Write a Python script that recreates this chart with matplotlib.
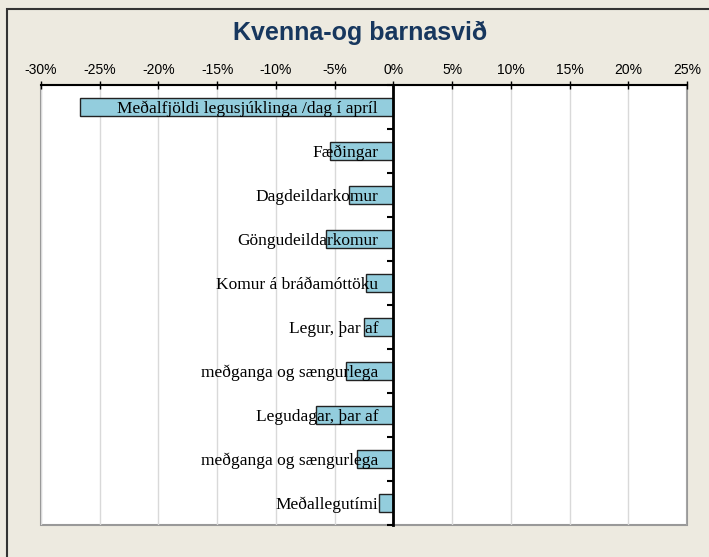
import matplotlib
matplotlib.use("Agg")
import matplotlib.pyplot as plt
import matplotlib.patches as mpatches
import numpy as np

# data (percent change)
categories = [
    "Meðalfjöldi legusjúklinga /dag í apríl",
    "Fæðingar",
    "Dagdeildarkomur",
    "Göngudeildarkomur",
    "Komur á bráðamóttöku",
    "Legur, þar af",
    "meðganga og sængurlega",
    "Legudagar, þar af",
    "meðganga og sængurlega",
    "Meðallegutími",
]
values = [-26.7, -5.4, -3.8, -5.7, -2.3, -2.5, -4.0, -6.6, -3.1, -1.2]
xticks = [-30, -25, -20, -15, -10, -5, 0, 5, 10, 15, 20, 25]
title = "Kvenna-og barnasvið"

fig = plt.figure(figsize=(7.09, 5.57), dpi=100)
fig.patch.set_facecolor("#EDEAE0")

# outer chart border (continues past the crop on right/bottom)
fig.patches.append(mpatches.Rectangle((7/709, -0.1), 1.2, 1 - 9/557 + 0.1,
                                      transform=fig.transFigure, fill=False,
                                      edgecolor="#333333", lw=1.5))

ax = fig.add_axes([41/709, 32/557, 646/709, 440/557])
ax.set_facecolor("white")

y = np.arange(len(categories))
ax.barh(y, values, height=0.41, color="#93CDDD", edgecolor="#222222",
        linewidth=1, zorder=2)

ax.set_xlim(-30, 25)
ax.set_ylim(len(categories) - 0.5, -0.5)

# x axis on top
ax.xaxis.tick_top()
ax.set_xticks(xticks)
ax.set_xticklabels([f"{t}%" for t in xticks], fontsize=10, family="Liberation Sans")
ax.tick_params(axis="x", direction="inout", length=6, width=1, pad=3)
ax.grid(axis="x", color="#D9D9D9", lw=1, zorder=0)

# y axis at zero, drawn over the bars so the labels show
ax.spines["left"].set_position(("data", 0))
ax.spines["left"].set_linewidth(2)
ax.spines["left"].set_color("black")
ax.spines["left"].set_zorder(3)
ax.spines["top"].set_linewidth(1.5)
ax.spines["top"].set_color("black")
ax.spines["right"].set_visible(False)
ax.spines["bottom"].set_visible(False)
ax.yaxis.set_zorder(3)

ax.set_yticks(np.arange(-0.5, len(categories), 1.0))
ax.set_yticklabels([])
ax.tick_params(axis="y", which="major", direction="out", length=4, width=1.5)
ax.set_yticks(y, minor=True)
ax.set_yticklabels(categories, minor=True, fontsize=12.5, family="Liberation Serif")
ax.tick_params(axis="y", which="minor", length=0, pad=11)

# gray plot frame
ax.add_patch(mpatches.Rectangle((0, 0), 1, 1, transform=ax.transAxes, fill=False,
                                edgecolor="#999999", lw=1.5, clip_on=False, zorder=1))

fig.text(360/709, 1 - 33/557, title, ha="center", va="center", fontsize=18,
         fontweight="bold", color="#17375E", family="Liberation Sans")

fig.savefig("out.png", dpi=100, facecolor=fig.get_facecolor())
